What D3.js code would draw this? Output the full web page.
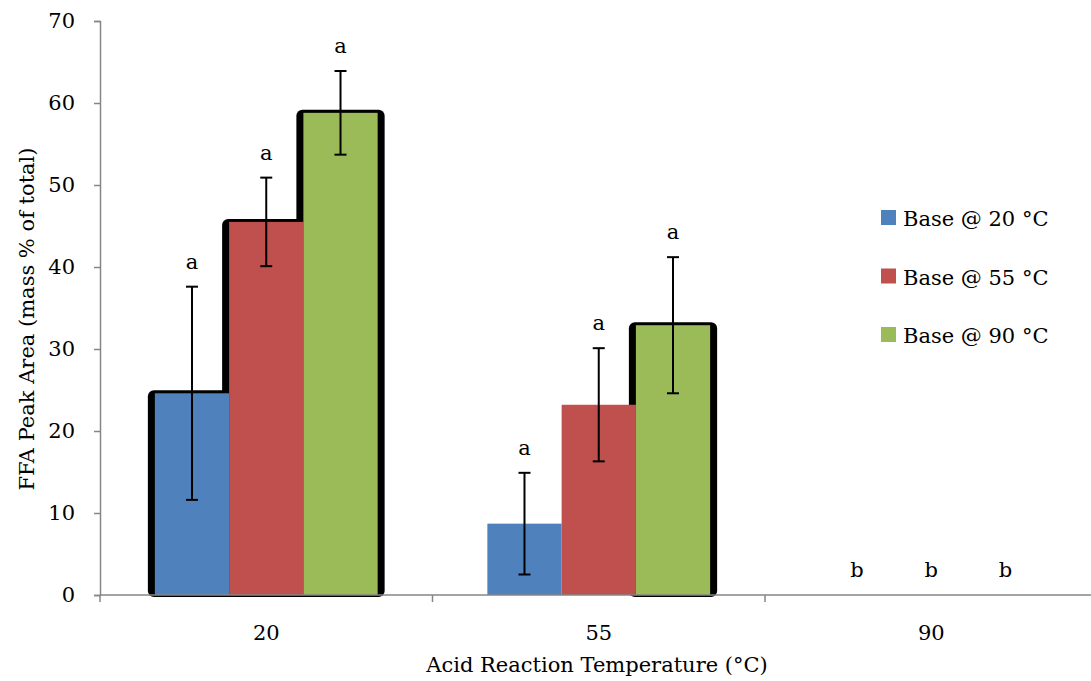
<!DOCTYPE html>
<html><head><meta charset="utf-8">
<script src="https://cdn.jsdelivr.net/npm/d3@7"></script>
<style>body{margin:0;background:#fff}svg{display:block}</style>
</head><body>
<svg id="c" width="1091" height="681"></svg>
<script>
const categories = ["20", "55", "90"];
const seriesNames = ["Base @ 20 °C", "Base @ 55 °C", "Base @ 90 °C"];
const base20 = [24.6, 8.7, 0];
const base55 = [45.5, 23.2, 0];
const base90 = [58.8, 32.9, 0];
const err20 = [13.0, 6.2, 0];
const err55 = [5.4, 6.9, 0];
const err90 = [5.1, 8.3, 0];
const letters20 = ["a", "a", "b"];
const letters55 = ["a", "a", "b"];
const letters90 = ["a", "a", "b"];
const yTicks = [0, 10, 20, 30, 40, 50, 60, 70];
const colors = ["#4F81BD", "#C0504D", "#9BBB59"];

(function () {
const values = [base20, base55, base90];
const errs = [err20, err55, err90];
const letters = [letters20, letters55, letters90];
// which bars carry the dark drop-shadow outline in the original: [category][series]
const shadowed = [[true, true, true], [false, false, true], [false, false, false]];

const FONT = "'DejaVu Serif', serif";
const FS = 21;
const svg = d3.select("#c");
const pL = 100, pR = 1097.5, pT = 21, pB = 595;

const x0 = d3.scaleBand().domain(categories).range([pL, pR]).paddingInner(0.33).paddingOuter(0.165);
const x1 = d3.scaleBand().domain(d3.range(3)).range([0, x0.bandwidth()]).padding(0);
const y = d3.scaleLinear().domain([0, 70]).range([pB, pT]);

const data = [];
categories.forEach((c, ci) => seriesNames.forEach((s, si) => data.push({
  c, ci, si, v: values[si][ci], e: errs[si][ci], l: letters[si][ci]
})));

// shadows
svg.append("g").selectAll("rect").data(data.filter(d => shadowed[d.ci][d.si] && d.v > 0)).join("rect")
  .attr("x", d => x0(d.c) + x1(d.si) - 7)
  .attr("y", d => y(d.v) - 3)
  .attr("width", x1.bandwidth() + 14)
  .attr("height", d => pB - y(d.v) + 5)
  .attr("rx", 6).attr("fill", "#000");

// bars
svg.append("g").selectAll("rect").data(data).join("rect")
  .attr("x", d => x0(d.c) + x1(d.si))
  .attr("y", d => y(d.v))
  .attr("width", x1.bandwidth())
  .attr("height", d => pB - y(d.v))
  .attr("fill", d => colors[d.si]);

// axes
const yAxis = d3.axisLeft(y).tickValues(yTicks).tickSize(6).tickPadding(19).tickFormat(d3.format("d"));
const gy = svg.append("g").attr("transform", `translate(${pL},0)`).call(yAxis);
gy.select(".domain").attr("stroke", "#868686").attr("stroke-width", 1.5);
gy.selectAll(".tick line").attr("stroke", "#868686").attr("stroke-width", 1.5);
gy.selectAll(".tick text").attr("font-family", FONT).attr("font-size", FS).attr("fill", "#000");

const gx = svg.append("g").attr("transform", `translate(0,${pB})`);
gx.append("line").attr("x1", pL).attr("x2", pR).attr("stroke", "#868686").attr("stroke-width", 1.5);
const bounds = categories.map(c => x0(c) - x0.step() * x0.paddingInner() / 2).concat([pR]);
gx.selectAll("line.tk").data(bounds).join("line").attr("class", "tk")
  .attr("x1", d => d).attr("x2", d => d).attr("y1", 0).attr("y2", 7)
  .attr("stroke", "#868686").attr("stroke-width", 1.5);
gx.selectAll("text").data(categories).join("text")
  .attr("x", c => x0(c) + x0.bandwidth() / 2).attr("y", 45)
  .attr("text-anchor", "middle").attr("font-family", FONT).attr("font-size", FS).text(c => c);

// error bars
const eg = svg.append("g").attr("stroke", "#000").attr("stroke-width", 2);
data.filter(d => d.e > 0).forEach(d => {
  const cx = x0(d.c) + x1(d.si) + x1.bandwidth() / 2;
  eg.append("line").attr("x1", cx).attr("x2", cx).attr("y1", y(d.v + d.e)).attr("y2", y(d.v - d.e));
  [d.v + d.e, d.v - d.e].forEach(v => eg.append("line").attr("x1", cx - 6).attr("x2", cx + 6).attr("y1", y(v)).attr("y2", y(v)));
});

// letters
svg.append("g").selectAll("text").data(data).join("text")
  .attr("x", d => x0(d.c) + x1(d.si) + x1.bandwidth() / 2)
  .attr("y", d => y(d.v + d.e) - 18)
  .attr("text-anchor", "middle").attr("font-family", FONT).attr("font-size", FS).text(d => d.l);

// axis titles
svg.append("text").attr("transform", `translate(34,${(pT + pB) / 2 + 11}) rotate(-90)`)
  .attr("text-anchor", "middle").attr("font-family", FONT).attr("font-size", FS)
  .text("FFA Peak Area (mass % of total)");
svg.append("text").attr("x", 597).attr("y", 672)
  .attr("text-anchor", "middle").attr("font-family", FONT).attr("font-size", FS)
  .text("Acid Reaction Temperature (°C)");

// legend
const lg = svg.append("g").attr("transform", "translate(881,210)");
seriesNames.forEach((s, i) => {
  const g = lg.append("g").attr("transform", `translate(0,${i * 58.5})`);
  g.append("rect").attr("width", 15).attr("height", 15).attr("fill", colors[i]);
  g.append("text").attr("x", 22).attr("y", 16).attr("font-family", FONT).attr("font-size", FS).text(s);
});
})();
</script>
</body></html>
